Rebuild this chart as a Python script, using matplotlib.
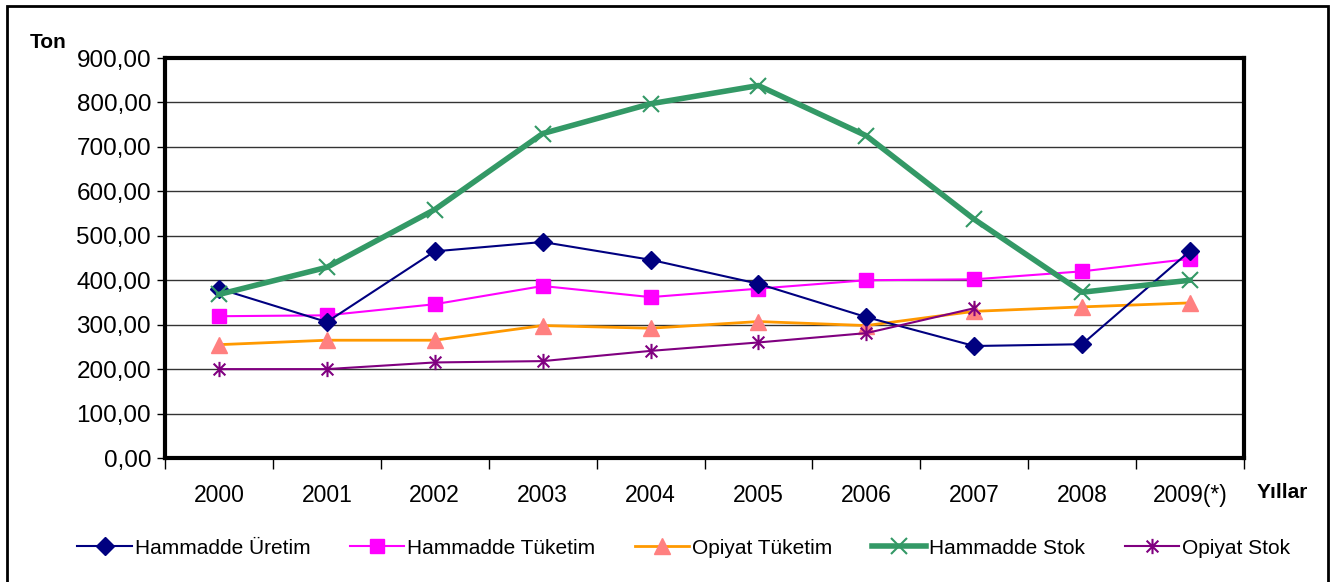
import numpy as np
import matplotlib
matplotlib.use("Agg")
import matplotlib.pyplot as plt
from matplotlib.path import Path
from matplotlib.patches import Rectangle
from matplotlib.ticker import FuncFormatter, MultipleLocator

plt.rcParams['font.family'] = ['Liberation Sans', 'DejaVu Sans']

years = ["2000", "2001", "2002", "2003", "2004", "2005", "2006", "2007", "2008", "2009(*)"]
hammadde_uretim = [381, 306, 465, 486, 446, 392, 317, 252, 256, 466]
hammadde_tuketim = [319, 321, 346, 387, 362, 381, 400, 402, 420, 448]
opiyat_tuketim = [255, 265, 265, 298, 292, 307, 298, 330, 340, 349]
hammadde_stok = [368, 429, 559, 730, 797, 838, 725, 537, 373, 400]
opiyat_stok = [200, 200, 215, 218, 241, 260, 281, 337, np.nan, np.nan]

# asterisk marker: an X crossed by a vertical bar
star = Path([(-1, -1), (1, 1), (-1, 1), (1, -1), (0, -1.3), (0, 1.3)],
            [Path.MOVETO, Path.LINETO, Path.MOVETO, Path.LINETO, Path.MOVETO, Path.LINETO])

W, H = 1341, 582
fig = plt.figure(figsize=(W / 100, H / 100), dpi=100)
fig.patch.set_facecolor('white')

# outer chart frame
fig.patches.append(Rectangle((7 / W, -0.05), (1328 - 7) / W, 1 - 6 / H + 0.05,
                             transform=fig.transFigure, fill=False,
                             edgecolor='black', linewidth=2, zorder=0))

left, right, top, bottom = 165, 1244, 58, 458
ax = fig.add_axes([left / W, 1 - bottom / H, (right - left) / W, (bottom - top) / H])

x = np.arange(len(years))

ax.plot(x, hammadde_uretim, color='#000080', lw=1.5, marker='D', ms=9,
        mfc='#000080', mec='#000080', label='Hammadde Üretim', zorder=5)
ax.plot(x, hammadde_tuketim, color='#FF00FF', lw=1.5, marker='s', ms=10,
        mfc='#FF00FF', mec='#FF00FF', label='Hammadde Tüketim', zorder=4)
ax.plot(x, opiyat_tuketim, color='#FF9900', lw=2, marker='^', ms=11,
        mfc='#FF8080', mec='#FF8080', label='Opiyat Tüketim', zorder=3)
ax.plot(x, hammadde_stok, color='#339966', lw=4, marker='x', ms=12, mew=1.5,
        mec='#339966', label='Hammadde Stok', zorder=6)
ax.plot(x, opiyat_stok, color='#800080', lw=1.5, marker=star, ms=11, mew=1.5,
        mec='#800080', label='Opiyat Stok', zorder=5)

ax.set_xlim(-0.5, len(years) - 0.5)
ax.set_ylim(0, 900)
ax.yaxis.set_major_locator(MultipleLocator(100))
ax.yaxis.set_major_formatter(FuncFormatter(lambda v, p: f"{v:.2f}".replace('.', ',')))
ax.set_xticks(x)
ax.set_xticklabels(years)
ax.set_xticks(np.arange(-0.5, len(years)), minor=True)
ax.tick_params(axis='x', which='major', length=0, pad=19, labelsize=16.5)
ax.tick_params(axis='x', which='minor', length=8, width=1, direction='out')
ax.tick_params(axis='y', length=6, width=1, direction='out', labelsize=17.5, pad=4)

ax.grid(axis='y', color='#333333', linewidth=1)
ax.set_axisbelow(True)
for s in ax.spines.values():
    s.set_linewidth(3)
    s.set_color('black')

fig.text(30 / W, 1 - 43 / H, 'Ton', fontsize=15, fontweight='bold', va='center', ha='left')
fig.text(1257 / W, 1 - 492 / H, 'Yıllar', fontsize=15, fontweight='bold', va='center', ha='left')

fig.legend(loc='center', bbox_to_anchor=(0.51, 1 - 548 / H), ncol=5, frameon=False,
           fontsize=15, handlelength=2.6, handletextpad=0.15, columnspacing=1.9)

fig.savefig('out.png', dpi=100)
